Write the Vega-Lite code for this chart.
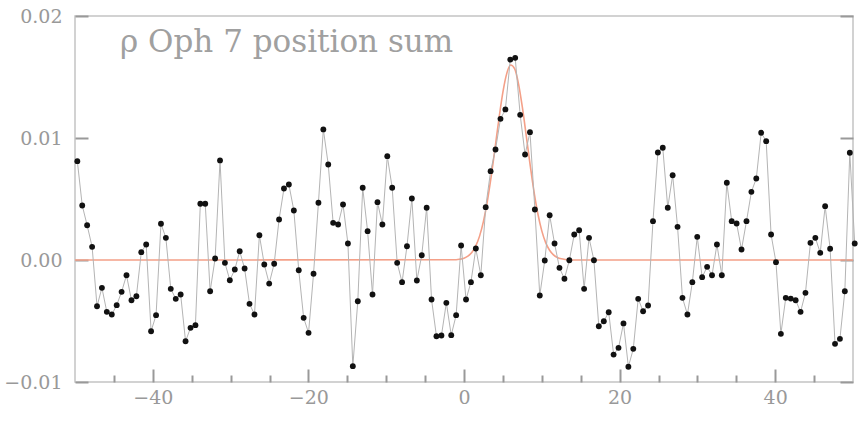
{
  "$schema": "https://vega.github.io/schema/vega-lite/v6.json",
  "width": 778,
  "height": 366,
  "autosize": "none",
  "padding": {"left": 75, "top": 16, "right": 5, "bottom": 42},
  "background": "white",
  "title": {
    "text": "ρ Oph 7 position sum",
    "orient": "top",
    "anchor": "start",
    "frame": "group",
    "offset": -76,
    "dx": 45,
    "baseline": "alphabetic",
    "font": "DejaVu Serif",
    "fontSize": 31,
    "fontWeight": "normal",
    "color": "#a0a0a0"
  },
  "config": {
    "view": {"stroke": "#c4c4c4", "strokeWidth": 1.5},
    "axis": {
      "domain": false,
      "grid": false,
      "title": null,
      "ticks": true,
      "tickColor": "#999999",
      "tickOpacity": 1,
      "tickWidth": 2,
      "labelColor": "#999999",
      "labelFont": "DejaVu Serif",
      "labelFontSize": 19,
      "labelFlush": false,
      "labelOverlap": false
    }
  },
  "datasets": {
    "obs": [
      {"x": -49.70, "y": 0.00810}, {"x": -49.07, "y": 0.00447}, {"x": -48.44, "y": 0.00285}, {"x": -47.80, "y": 0.00108},
      {"x": -47.17, "y": -0.00379}, {"x": -46.54, "y": -0.00228}, {"x": -45.91, "y": -0.00425}, {"x": -45.27, "y": -0.00447},
      {"x": -44.64, "y": -0.00370}, {"x": -44.01, "y": -0.00261}, {"x": -43.38, "y": -0.00125}, {"x": -42.74, "y": -0.00330},
      {"x": -42.11, "y": -0.00297}, {"x": -41.48, "y": 0.00064}, {"x": -40.85, "y": 0.00127}, {"x": -40.22, "y": -0.00584},
      {"x": -39.58, "y": -0.00452}, {"x": -38.95, "y": 0.00297}, {"x": -38.32, "y": 0.00182}, {"x": -37.69, "y": -0.00236},
      {"x": -37.05, "y": -0.00318}, {"x": -36.42, "y": -0.00283}, {"x": -35.79, "y": -0.00666}, {"x": -35.15, "y": -0.00556},
      {"x": -34.52, "y": -0.00534}, {"x": -33.89, "y": 0.00461}, {"x": -33.26, "y": 0.00461}, {"x": -32.63, "y": -0.00256},
      {"x": -31.99, "y": 0.00012}, {"x": -31.36, "y": 0.00816}, {"x": -30.73, "y": -0.00023}, {"x": -30.10, "y": -0.00166},
      {"x": -29.46, "y": -0.00078}, {"x": -28.83, "y": 0.00072}, {"x": -28.20, "y": -0.00070}, {"x": -27.57, "y": -0.00359},
      {"x": -26.93, "y": -0.00447}, {"x": -26.30, "y": 0.00203}, {"x": -25.67, "y": -0.00037}, {"x": -25.04, "y": -0.00193},
      {"x": -24.40, "y": -0.00031}, {"x": -23.77, "y": 0.00332}, {"x": -23.14, "y": 0.00586}, {"x": -22.51, "y": 0.00619},
      {"x": -21.87, "y": 0.00406}, {"x": -21.24, "y": -0.00084}, {"x": -20.61, "y": -0.00474}, {"x": -19.98, "y": -0.00597},
      {"x": -19.34, "y": -0.00113}, {"x": -18.71, "y": 0.00469}, {"x": -18.08, "y": 0.01070}, {"x": -17.45, "y": 0.00783},
      {"x": -16.82, "y": 0.00305}, {"x": -16.18, "y": 0.00291}, {"x": -15.55, "y": 0.00455}, {"x": -14.92, "y": 0.00135},
      {"x": -14.29, "y": -0.00870}, {"x": -13.65, "y": -0.00338}, {"x": -13.02, "y": 0.00592}, {"x": -12.39, "y": 0.00236},
      {"x": -11.76, "y": -0.00283}, {"x": -11.12, "y": 0.00474}, {"x": -10.49, "y": 0.00291}, {"x": -9.86, "y": 0.00851},
      {"x": -9.23, "y": 0.00592}, {"x": -8.59, "y": -0.00023}, {"x": -7.96, "y": -0.00182}, {"x": -7.33, "y": 0.00113},
      {"x": -6.70, "y": 0.00504}, {"x": -6.06, "y": -0.00168}, {"x": -5.43, "y": 0.00039}, {"x": -4.80, "y": 0.00428},
      {"x": -4.17, "y": -0.00324}, {"x": -3.54, "y": -0.00625}, {"x": -2.90, "y": -0.00619}, {"x": -2.27, "y": -0.00351},
      {"x": -1.64, "y": -0.00616}, {"x": -1.01, "y": -0.00452}, {"x": -0.37, "y": 0.00119}, {"x": 0.26, "y": -0.00324},
      {"x": 0.89, "y": -0.00182}, {"x": 1.52, "y": 0.00094}, {"x": 2.16, "y": -0.00125}, {"x": 2.79, "y": 0.00433},
      {"x": 3.42, "y": 0.00728}, {"x": 4.05, "y": 0.00906}, {"x": 4.69, "y": 0.01157}, {"x": 5.32, "y": 0.01234},
      {"x": 5.95, "y": 0.01643}, {"x": 6.58, "y": 0.01657}, {"x": 7.22, "y": 0.01190}, {"x": 7.85, "y": 0.00865},
      {"x": 8.48, "y": 0.01048}, {"x": 9.11, "y": 0.00414}, {"x": 9.74, "y": -0.00291}, {"x": 10.38, "y": -0.00004},
      {"x": 11.01, "y": 0.00367}, {"x": 11.64, "y": 0.00135}, {"x": 12.27, "y": -0.00064}, {"x": 12.91, "y": -0.00154},
      {"x": 13.54, "y": -0.00002}, {"x": 14.17, "y": 0.00209}, {"x": 14.80, "y": 0.00244}, {"x": 15.44, "y": -0.00236},
      {"x": 16.07, "y": 0.00182}, {"x": 16.70, "y": -0.00002}, {"x": 17.33, "y": -0.00543}, {"x": 17.97, "y": -0.00502},
      {"x": 18.60, "y": -0.00428}, {"x": 19.23, "y": -0.00775}, {"x": 19.86, "y": -0.00720}, {"x": 20.50, "y": -0.00520},
      {"x": 21.13, "y": -0.00875}, {"x": 21.76, "y": -0.00728}, {"x": 22.39, "y": -0.00318}, {"x": 23.02, "y": -0.00420},
      {"x": 23.66, "y": -0.00373}, {"x": 24.29, "y": 0.00318}, {"x": 24.92, "y": 0.00881}, {"x": 25.55, "y": 0.00920},
      {"x": 26.19, "y": 0.00428}, {"x": 26.82, "y": 0.00695}, {"x": 27.45, "y": 0.00272}, {"x": 28.08, "y": -0.00310},
      {"x": 28.72, "y": -0.00447}, {"x": 29.35, "y": -0.00182}, {"x": 29.98, "y": 0.00190}, {"x": 30.61, "y": -0.00141},
      {"x": 31.25, "y": -0.00056}, {"x": 31.88, "y": -0.00125}, {"x": 32.51, "y": 0.00127}, {"x": 33.14, "y": -0.00125},
      {"x": 33.78, "y": 0.00633}, {"x": 34.41, "y": 0.00318}, {"x": 35.04, "y": 0.00299}, {"x": 35.67, "y": 0.00086},
      {"x": 36.31, "y": 0.00318}, {"x": 36.94, "y": 0.00559}, {"x": 37.57, "y": 0.00668}, {"x": 38.20, "y": 0.01043},
      {"x": 38.84, "y": 0.00974}, {"x": 39.47, "y": 0.00209}, {"x": 40.10, "y": -0.00018}, {"x": 40.73, "y": -0.00605},
      {"x": 41.36, "y": -0.00310}, {"x": 42.00, "y": -0.00316}, {"x": 42.63, "y": -0.00330}, {"x": 43.26, "y": -0.00425},
      {"x": 43.89, "y": -0.00269}, {"x": 44.53, "y": 0.00141}, {"x": 45.16, "y": 0.00182}, {"x": 45.79, "y": 0.00059},
      {"x": 46.42, "y": 0.00441}, {"x": 47.06, "y": 0.00092}, {"x": 47.69, "y": -0.00687}, {"x": 48.32, "y": -0.00646},
      {"x": 48.95, "y": -0.00256}, {"x": 49.59, "y": 0.00879}, {"x": 50.22, "y": 0.00135}
    ],
    "fit": [
      {"x": -50, "y": 0}, {"x": -1, "y": 0.00002}, {"x": -0.5, "y": 0.000069}, {"x": 0, "y": 0.000153},
      {"x": 0.5, "y": 0.000317}, {"x": 1, "y": 0.000619}, {"x": 1.5, "y": 0.001136}, {"x": 2, "y": 0.001957},
      {"x": 2.5, "y": 0.003166}, {"x": 3, "y": 0.004814}, {"x": 3.5, "y": 0.006873}, {"x": 4, "y": 0.009222},
      {"x": 4.5, "y": 0.011618}, {"x": 5, "y": 0.013757}, {"x": 5.5, "y": 0.015296}, {"x": 6, "y": 0.01598},
      {"x": 6.5, "y": 0.015683}, {"x": 7, "y": 0.014461}, {"x": 7.5, "y": 0.012523}, {"x": 8, "y": 0.01019},
      {"x": 8.5, "y": 0.007789}, {"x": 9, "y": 0.005592}, {"x": 9.5, "y": 0.003771}, {"x": 10, "y": 0.00239},
      {"x": 10.5, "y": 0.001423}, {"x": 11, "y": 0.000796}, {"x": 11.5, "y": 0.000418}, {"x": 12, "y": 0.000206},
      {"x": 12.5, "y": 0.000096}, {"x": 13, "y": 0.000042}, {"x": 14, "y": 0.000005}, {"x": 50, "y": 0}
    ]
  },
  "layer": [
    {
      "data": {"name": "fit"},
      "mark": {"type": "line", "color": "#f4a088", "strokeWidth": 1.6, "interpolate": "monotone"},
      "encoding": {
        "x": {"field": "x", "type": "quantitative", "scale": {"domain": [-50, 50], "nice": false, "zero": false},
          "axis": {"orient": "bottom", "values": [-40, -20, 0, 20, 40], "offset": -13, "tickSize": 13, "labelPadding": 6}},
        "y": {"field": "y", "type": "quantitative", "scale": {"domain": [-0.01, 0.02], "nice": false, "zero": false},
          "axis": {"orient": "left", "values": [-0.01, 0, 0.01, 0.02], "format": ".2f", "offset": -13, "tickSize": 13, "labelPadding": 13}}
      }
    },
    {
      "data": {"name": "obs"},
      "mark": {"type": "line", "color": "#b4b4b4", "strokeWidth": 1,
        "point": {"filled": true, "size": 34, "color": "#111111", "opacity": 1}},
      "encoding": {
        "x": {"field": "x", "type": "quantitative", "scale": {"domain": [-50, 50], "nice": false, "zero": false},
          "axis": {"orient": "bottom", "values": [-45, -35, -30, -25, -15, -10, -5, 5, 10, 15, 25, 30, 35, 45], "offset": -7, "tickSize": 7, "labels": false}},
        "y": {"field": "y", "type": "quantitative", "scale": {"domain": [-0.01, 0.02], "nice": false, "zero": false},
          "axis": {"orient": "right", "values": [-0.01, 0, 0.01, 0.02], "offset": -13, "tickSize": 13, "labels": false}}
      }
    }
  ],
  "resolve": {"axis": {"x": "independent", "y": "independent"}}
}
